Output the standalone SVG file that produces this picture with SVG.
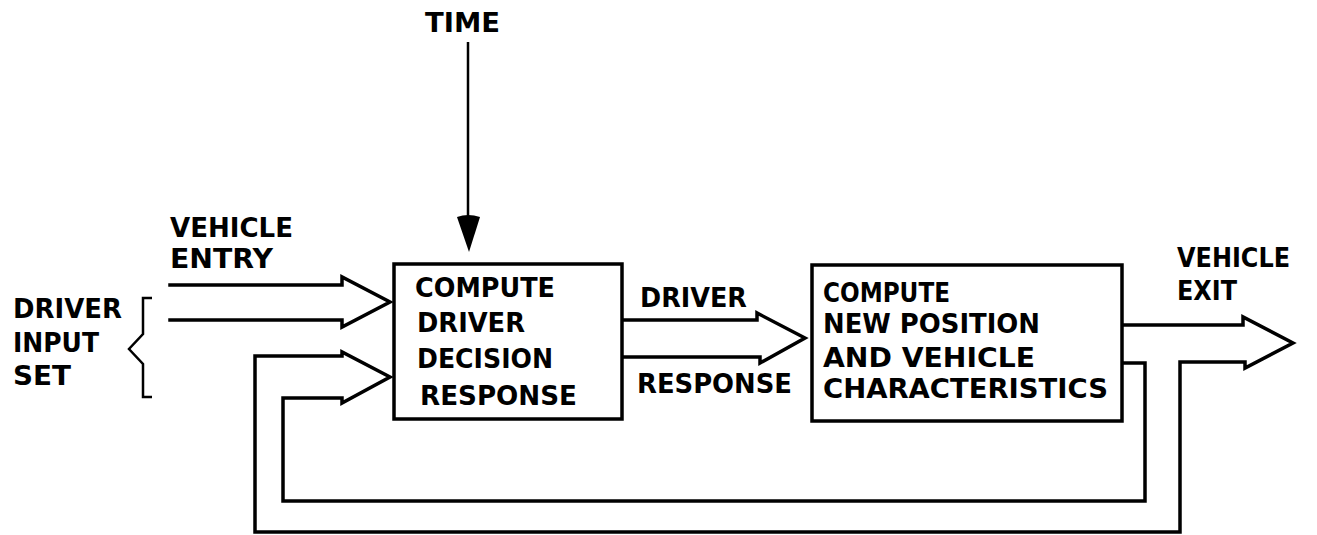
<svg xmlns="http://www.w3.org/2000/svg" width="1317" height="535" viewBox="0 0 1317 535">
  <style>
    .t { font-family: "DejaVu Sans", "Liberation Sans", sans-serif; font-weight: bold; font-size: 26px; fill: #000; }
    .box { fill: #fff; stroke: #000; stroke-width: 3.5; }
    .ln { fill: none; stroke: #000; stroke-width: 3.5; stroke-linejoin: miter; stroke-linecap: square; }
    .thin { fill: none; stroke: #000; stroke-width: 2.5; }
  </style>
  <rect width="1317" height="535" fill="#fff"/>

  <g id="connectors">
    <!-- time arrow -->
    <line class="thin" x1="468" y1="42" x2="468" y2="220"/>
    <path d="M457,217 Q468,213 480,217 L469,252 Z" fill="#000"/>
    <!-- vehicle entry / driver input arrow -->
    <path class="ln" d="M170,285 H342 L342,277 L390,302 L342,327 L342,320 H170"/>
    <!-- driver response arrow -->
    <path class="ln" d="M623,320 H757 L757,313 L805,338 L760,363 L760,357 H623"/>
    <!-- vehicle exit arrow + outer feedback loop + inner loop -->
    <path class="ln" d="M1122,325 H1243 L1243,317 L1293,343 L1245,368 L1245,362 H1180 V532 H255 V356 H342 L342,352 L390,377 L342,403 L342,398 H283 V501 H1145 V363 H1122"/>
    <!-- brace -->
    <path class="thin" d="M152,298 H143 V334 L129,349 L143,364 V397 H152"/>
  </g>

  <g id="time-label">
    <text class="t" x="425" y="32" font-size="27" textLength="75" lengthAdjust="spacingAndGlyphs">TIME</text>
  </g>

  <g id="vehicle-entry-label">
    <text class="t" x="170" y="237" textLength="123" lengthAdjust="spacingAndGlyphs">VEHICLE</text>
    <text class="t" x="170" y="268" textLength="103" lengthAdjust="spacingAndGlyphs">ENTRY</text>
  </g>

  <g id="driver-input-set-label">
    <text class="t" x="13" y="318" textLength="109" lengthAdjust="spacingAndGlyphs">DRIVER</text>
    <text class="t" x="13" y="352" textLength="86" lengthAdjust="spacingAndGlyphs">INPUT</text>
    <text class="t" x="13" y="385" textLength="58" lengthAdjust="spacingAndGlyphs">SET</text>
  </g>

  <g id="node-driver-decision">
    <rect class="box" x="394" y="264" width="228" height="155"/>
    <text class="t" x="415" y="297" textLength="140" lengthAdjust="spacingAndGlyphs">COMPUTE</text>
    <text class="t" x="417" y="332" textLength="108" lengthAdjust="spacingAndGlyphs">DRIVER</text>
    <text class="t" x="417" y="368" textLength="136" lengthAdjust="spacingAndGlyphs">DECISION</text>
    <text class="t" x="420" y="405" textLength="157" lengthAdjust="spacingAndGlyphs">RESPONSE</text>
  </g>

  <g id="driver-response-label">
    <text class="t" x="640" y="307" textLength="107" lengthAdjust="spacingAndGlyphs">DRIVER</text>
    <text class="t" x="637" y="393" textLength="155" lengthAdjust="spacingAndGlyphs">RESPONSE</text>
  </g>

  <g id="node-new-position">
    <rect class="box" x="812" y="265" width="310" height="156"/>
    <text class="t" x="823" y="302" textLength="127" lengthAdjust="spacingAndGlyphs">COMPUTE</text>
    <text class="t" x="823" y="333" textLength="217" lengthAdjust="spacingAndGlyphs">NEW POSITION</text>
    <text class="t" x="823" y="367" textLength="212" lengthAdjust="spacingAndGlyphs">AND VEHICLE</text>
    <text class="t" x="823" y="398" textLength="285" lengthAdjust="spacingAndGlyphs">CHARACTERISTICS</text>
  </g>

  <g id="vehicle-exit-label">
    <text class="t" x="1177" y="267" textLength="113" lengthAdjust="spacingAndGlyphs">VEHICLE</text>
    <text class="t" x="1177" y="300" textLength="60" lengthAdjust="spacingAndGlyphs">EXIT</text>
  </g>
</svg>
